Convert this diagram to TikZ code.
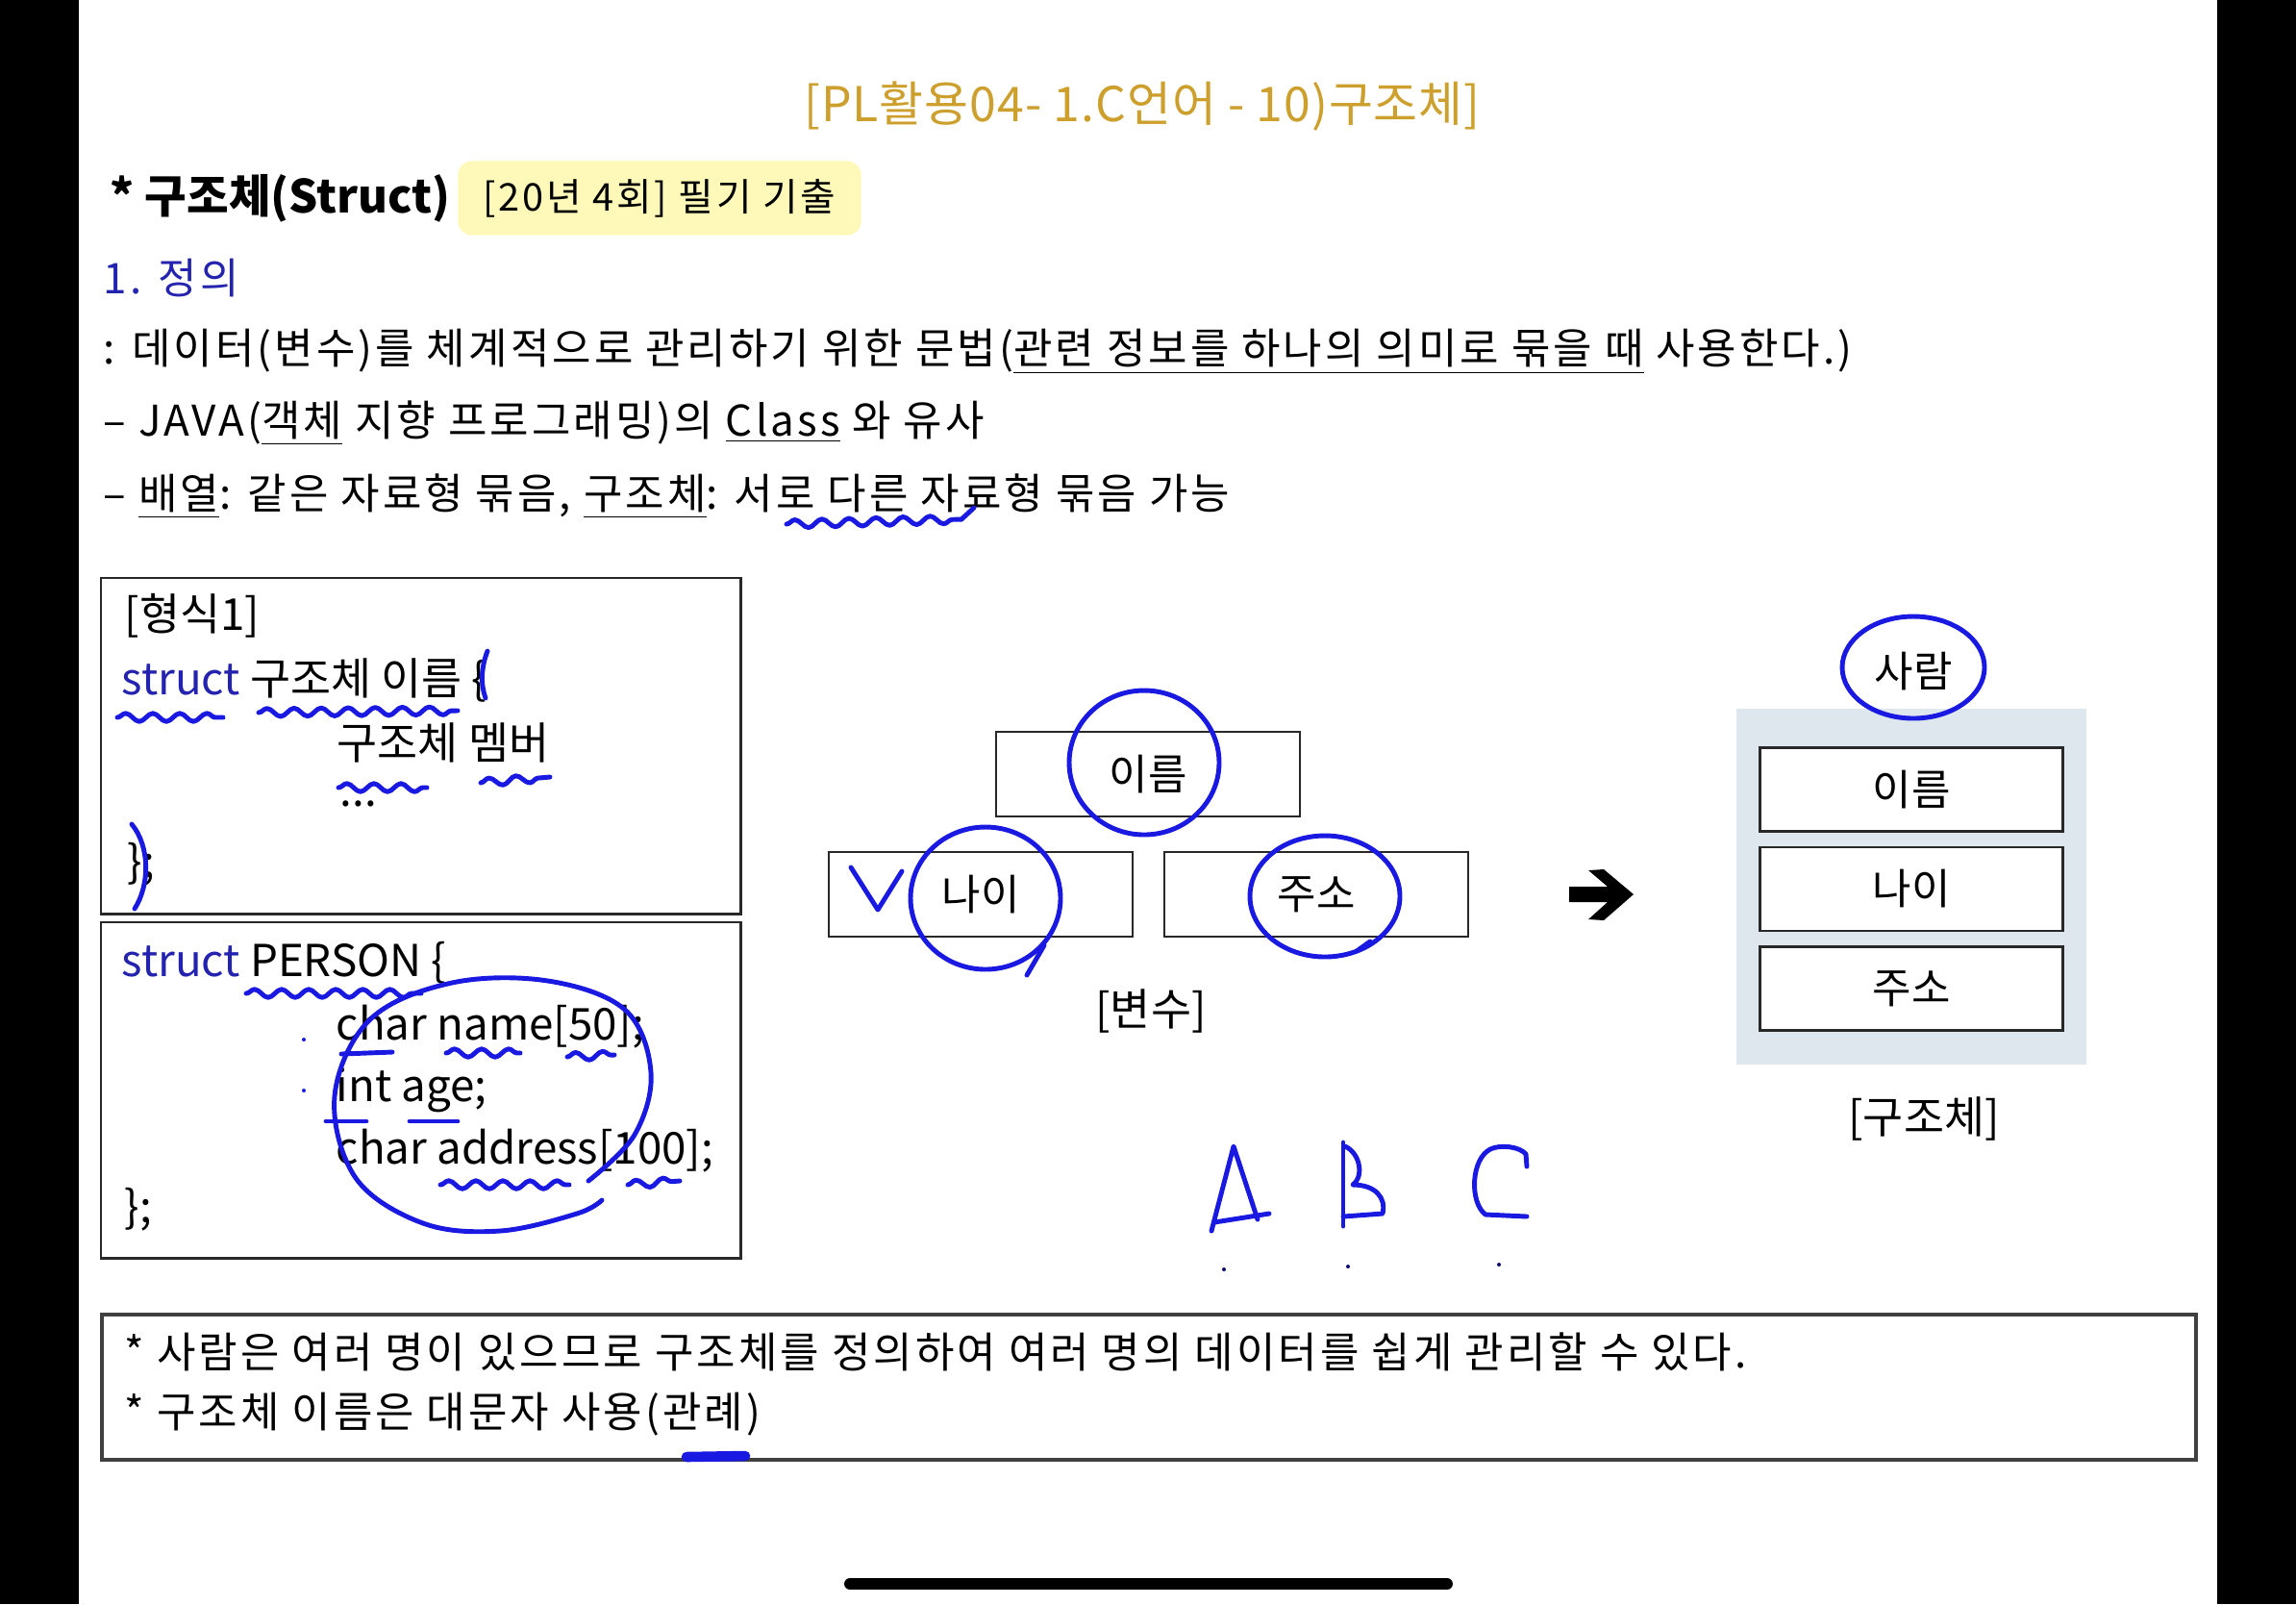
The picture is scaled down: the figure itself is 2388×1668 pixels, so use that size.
\documentclass[tikz,border=0pt]{standalone}
\usepackage{fontspec}
\setmainfont{Noto Sans CJK KR}
\newfontfamily\spaced{Noto Sans CJK KR}[LetterSpace=7]
\newfontfamily\titlespaced{Noto Sans CJK KR}[LetterSpace=2]
\usetikzlibrary{positioning,decorations.pathmorphing}
\definecolor{titlegold}{RGB}{205,160,45}
\definecolor{tagyellow}{RGB}{255,249,185}
\definecolor{headblue}{RGB}{35,35,175}
\definecolor{penblue}{RGB}{25,25,225}
\definecolor{structbg}{RGB}{221,231,237}
\definecolor{boxline}{RGB}{40,40,40}
\newcommand{\fsz}[1]{\fontsize{#1}{#1}\selectfont}

\begin{document}
\begin{tikzpicture}[x=0.01cm, y=-0.01cm, every node/.style={inner sep=0pt},
	txt/.style={anchor=west, font=\spaced\fsz{12.5}},
	codetxt/.style={anchor=west, font=\fsz{13}},
	codeframe/.style={draw=boxline, line width=0.7pt, anchor=north west, minimum width=6.65cm, minimum height=3.49cm},
	cell/.style={draw=boxline, line width=0.7pt, fill=white, minimum width=3.16cm, minimum height=0.88cm, font=\fsz{12.5}},
	hand/.style={draw=penblue, line width=1.4pt, line cap=round, line join=round},
	handwave/.style={hand, decorate, decoration={snake, amplitude=1.2pt, segment length=8pt}}]
	\useasboundingbox (0,0) rectangle (2388,1668);
	\fill[white] (0,0) rectangle (2388,1668);
	\fill[black] (0,0) rectangle (82,1668);
	\fill[black] (2306,0) rectangle (2388,1668);
	\draw[black, line width=3.4pt, line cap=round] (884,1647) -- (1505,1647);

	\node[font=\titlespaced\fsz{14.2}, text=titlegold] (title) at (1188,111) {[PL활용04- 1.C언어 - 10)구조체]};
	\node[anchor=west, font=\bfseries\fsz{13.5}] (head) at (114,206) {* 구조체(Struct)};
	\node[fill=tagyellow, rounded corners=4pt, minimum width=4.19cm, minimum height=0.77cm, font=\spaced\fsz{11.3}] (tag) at (686,206) {[20년 4회] 필기 기출};
	\node[txt, text=headblue] (defhead) at (107,289) {1. 정의};
	\node[txt] (def1) at (107,366) {: 데이터(변수)를 체계적으로 관리하기 위한 문법(\underline{관련 정보를 하나의 의미로 묶을 때} 사용한다.)};
	\node[txt] (def2) at (107,440) {– JAVA(\underline{객체} 지향 프로그래밍)의 \underline{Class} 와 유사};
	\node[txt] (def3) at (107,516) {– \underline{배열}: 같은 자료형 묶음, \underline{구조체}: 서로 다른 자료형 묶음 가능};

	\node[codeframe] (form) at (104,600) {};
	\node[codetxt] (f1) at (129,640) {[형식1]};
	\node[codetxt] (f2) at (126,707) {\textcolor{headblue}{struct} 구조체 이름 \{};
	\node[codetxt] (f3) at (350,772) {구조체 멤버};
	\node[codetxt] (f4) at (353,836) {...};
	\node[codetxt] (f5) at (132,899) {\};};

	\node[codeframe] (person) at (104,958) {};
	\node[codetxt] (p1) at (126,1001) {\textcolor{headblue}{struct} PERSON \{};
	\node[codetxt] (p2) at (349,1068) {char name[50];};
	\node[codetxt] (p3) at (349,1133) {int age;};
	\node[codetxt] (p4) at (349,1197) {char address[100];};
	\node[codetxt] (p5) at (129,1258) {\};};

	\node[cell] (vName) at (1194,805) {이름};
	\node[cell] (vAge) at (1020,930) {나이};
	\node[cell] (vAddr) at (1369,930) {주소};
	\node[font=\fsz{13}] (vCap) at (1197,1051) {[변수]};

	\fill[black] (1632,922) -- (1672,922) -- (1652,905) -- (1668,904) -- (1699,930) -- (1668,957) -- (1652,956) -- (1672,938) -- (1632,938) -- cycle;

	\node[fill=structbg, minimum width=3.63cm, minimum height=3.69cm] (sBg) at (1988,922) {};
	\node[cell, minimum width=3.15cm, minimum height=0.87cm] (sName) at (1988,821) {이름};
	\node[cell, minimum width=3.15cm, minimum height=0.87cm, below=0.14cm of sName] (sAge) {나이};
	\node[cell, minimum width=3.15cm, minimum height=0.87cm, below=0.14cm of sAge] (sAddr) {주소};
	\node[font=\fsz{12.5}] (sPerson) at (1990,698) {사람};
	\node[font=\fsz{13}] (sCap) at (2001,1163) {[구조체]};

	\node[draw=gray!50!black, line width=1.1pt, anchor=north west, minimum width=21.77cm, minimum height=1.51cm] (note) at (104,1365) {};
	\node[txt] (n1) at (129,1406) {* 사람은 여러 명이 있으므로 구조체를 정의하여 여러 명의 데이터를 쉽게 관리할 수 있다.};
	\node[txt] (n2) at (129,1471) {* 구조체 이름은 대문자 사용(관례)};

	\draw[handwave] (818,545) -- (1000,540);
	\draw[hand] (1000,540) -- (1013,528);
	\draw[handwave] (122,746) -- (232,746);
	\draw[handwave] (269,741) -- (476,739);
	\draw[hand] (507,677) .. controls (500,695) and (500,712) .. (505,726);
	\draw[handwave] (352,819) -- (444,819);
	\draw[handwave] (500,814) -- (572,808);
	\draw[hand] (137,857) .. controls (156,880) and (156,920) .. (140,945);
	\draw[handwave] (256,1033) -- (438,1033);
	\draw[hand] (355,1096) -- (408,1094);
	\draw[handwave] (464,1095) -- (541,1095);
	\draw[handwave] (590,1099) -- (639,1097);
	\draw[hand] (339,1166) -- (381,1166);
	\draw[hand] (426,1166) -- (476,1166);
	\draw[handwave] (458,1232) -- (592,1232);
	\draw[handwave] (653,1232) -- (707,1228);
	\fill[penblue] (316,1081) circle (2) (316,1134) circle (2);
	\draw[hand] plot[smooth, tension=0.6] coordinates {(612,1228) (660,1180) (677,1115) (650,1050) (570,1020) (470,1022) (385,1060) (348,1140) (370,1225) (440,1272) (520,1280) (600,1262) (626,1248)};

	\draw[hand] (vName.center) ++(-4,-12) ellipse [x radius=78, y radius=75];
	\draw[hand] (1025,934) ellipse [x radius=78, y radius=74];
	\draw[hand] (1086,983) -- (1068,1014);
	\draw[hand] (1378,932) ellipse [x radius=78, y radius=63];
	\draw[hand] (1411,989) -- (1425,979);
	\draw[hand] (885,902) -- (913,946) -- (938,906);
	\draw[hand] (sPerson.center) ++(0,-4) ellipse [x radius=74, y radius=53];

	\draw[hand] (1260,1280) -- (1283,1192) -- (1308,1268);
	\draw[hand] (1263,1271) -- (1320,1262);
	\draw[hand] (1397,1188) -- (1397,1275);
	\draw[hand] (1399,1192) .. controls (1416,1200) and (1418,1225) .. (1407,1232) .. controls (1430,1232) and (1442,1245) .. (1438,1262) -- (1397,1265);
	\draw[hand] (1588,1213) -- (1587,1200) .. controls (1580,1192) and (1560,1190) .. (1550,1195) .. controls (1530,1205) and (1528,1250) .. (1545,1263) -- (1588,1265);
	\fill[penblue!50!black] (1273,1320) circle (2) (1402,1317) circle (2) (1559,1315) circle (2);
	\draw[hand, line width=3pt] (714,1515) -- (775,1514);
\end{tikzpicture}
\end{document}
